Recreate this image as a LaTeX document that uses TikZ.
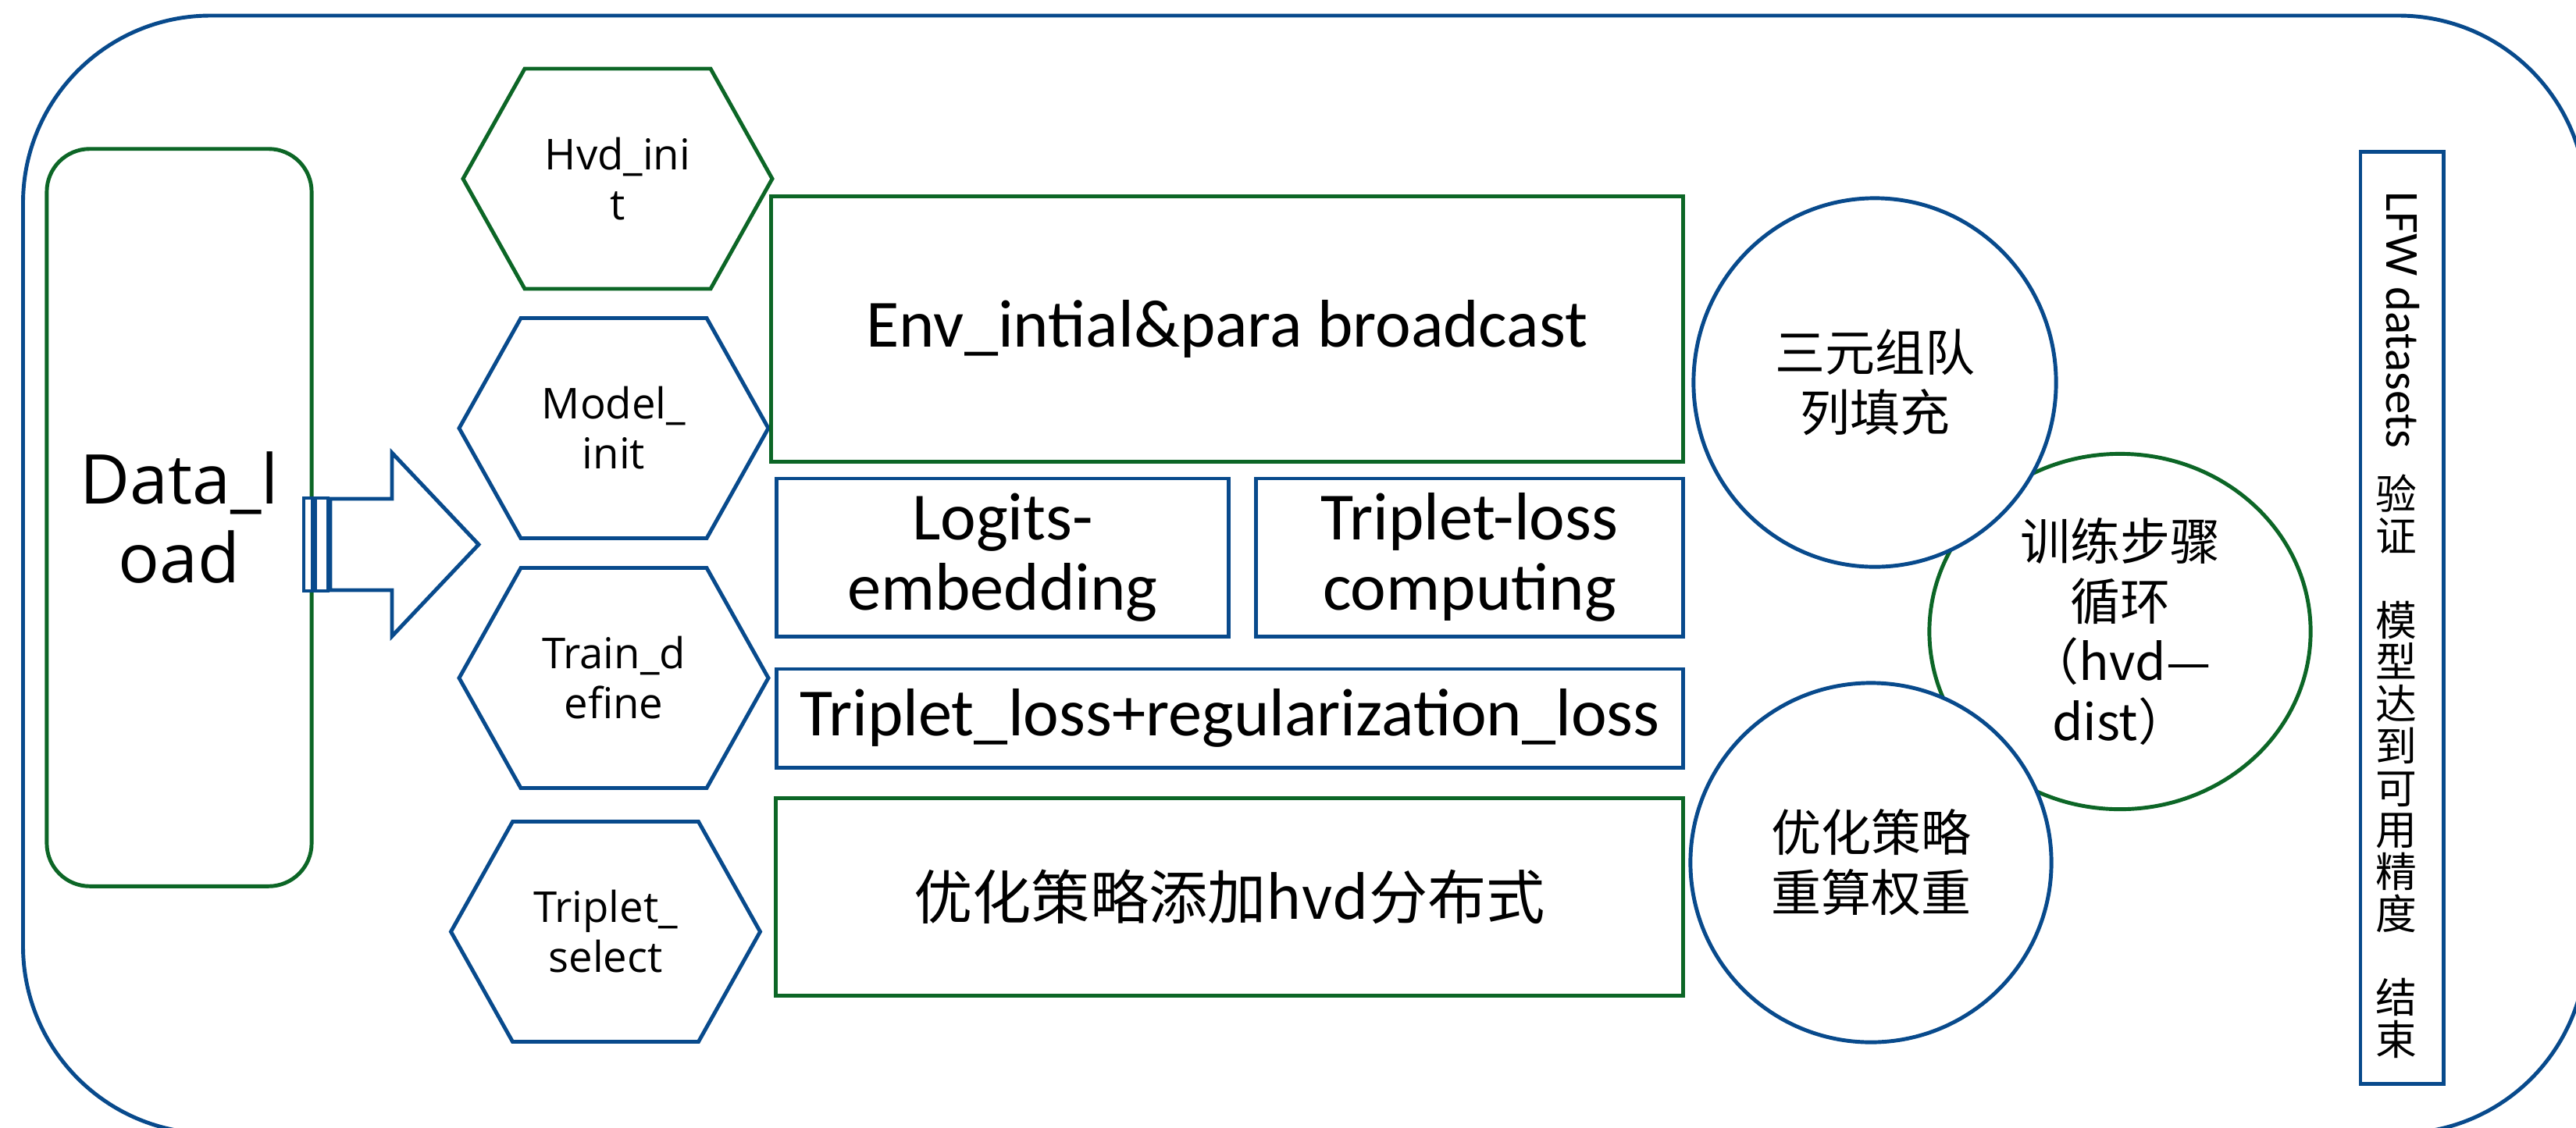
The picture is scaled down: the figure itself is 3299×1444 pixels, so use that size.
\documentclass[tikz,border=0pt]{standalone}
\usepackage{fontspec}
\setmainfont{Carlito}
\newfontfamily\yhfont{Open Sans}
\newfontfamily\cjkfont{Noto Sans CJK SC}
\usetikzlibrary{shapes.geometric}
\definecolor{frgreen}{RGB}{12,102,38}
\definecolor{frblue}{RGB}{8,74,140}
\newcommand\tightlines{\lineskiplimit=-20pt\relax\lineskip=0pt\relax}
\newcommand\hexat[4]{%
  \draw[#3] (#1-198,#2) -- (#1-119,#2-141) -- (#1+119,#2-141) -- (#1+198,#2)
    -- (#1+119,#2+141) -- (#1-119,#2+141) -- cycle;
  \node[hexlabel] (#4) at (#1,#2) {\csname hextext#4\endcsname};}
\newcommand\hextexthvd{Hvd\_ini\\t}
\newcommand\hextextmodel{Model\_\\init}
\newcommand\hextexttrain{Train\_d\\efine}
\newcommand\hextexttrip{Triplet\_\\select}
\begin{document}
\begin{tikzpicture}[x=0.01cm,y=-0.01cm,
  gline/.style={draw=frgreen,line width=1.4pt},
  bline/.style={draw=frblue,line width=1.4pt},
  hexlabel/.style={font=\yhfont\fontsize{15.5}{18.2}\selectfont,align=center,inner sep=0pt},
  boxtext/.style={font=\fontsize{24.6}{25.6}\selectfont,align=center,inner sep=0pt},
  cjktext/.style={font=\cjkfont\fontsize{18.2}{21.9}\selectfont,align=center,inner sep=0pt},
  sqbox/.style={rectangle,inner sep=0pt,fill=white}]
\useasboundingbox (0,0) rectangle (3299,1444);
\fill[white] (0,0) rectangle (3299,1444);
\begin{scope}
\clip (0,0) rectangle (3299,1444);
\draw[bline,rounded corners=2.4cm] (29.5,20) rectangle (3312,1452);
\end{scope}

% Data_load
\node[gline,sqbox,rounded corners=0.55cm,minimum width=3.39cm,minimum height=9.44cm,
  font=\yhfont\fontsize{25}{28.7}\selectfont,align=center] (data) at (229.5,663) {Data\_l\\oad};

% striped arrow
\draw[bline,fill=white] (389,638) rectangle (400,757);
\draw[bline,fill=white] (404,638) rectangle (420,757);
\draw[bline,fill=white] (423,639) -- (502,639) -- (502,580) -- (613,697.5) -- (502,815) -- (502,756) -- (423,756) -- cycle;

% hexagons
\hexat{791}{229}{gline}{hvd}
\hexat{786}{548.5}{bline}{model}
\hexat{786}{868.5}{bline}{train}
\hexat{775.5}{1193.5}{bline}{trip}

% boxes
\node[gline,sqbox,boxtext,minimum width=11.67cm,minimum height=3.39cm] (env) at (1571.5,421.5) {Env\_intial\&para broadcast};
\node[bline,sqbox,boxtext,minimum width=5.78cm,minimum height=2.02cm] (logit) at (1284,714) {Logits-\\embedding};
\node[bline,sqbox,boxtext,minimum width=5.46cm,minimum height=2.02cm] (tlc) at (1882,714) {Triplet-loss\\computing};
\node[bline,sqbox,boxtext,minimum width=11.6cm,minimum height=1.26cm] (treg) at (1575,920) {Triplet\_loss+regularization\_loss};
\node[gline,sqbox,minimum width=11.61cm,minimum height=2.52cm,
  font=\cjkfont\fontsize{21.4}{24}\selectfont] (opt) at (1574.5,1149) {优化策略添加hvd分布式};

% circles
\node[ellipse,gline,fill=white,cjktext,minimum width=4.88cm,minimum height=4.55cm] (loop) at (2715,809) {训练步骤\\循环\\（hvd—\\dist）};
\node[ellipse,bline,fill=white,cjktext,minimum width=4.64cm,minimum height=4.72cm] (queue) at (2401,490) {三元组队\\列填充};
\node[ellipse,bline,fill=white,cjktext,minimum width=4.62cm,minimum height=4.6cm] (reweight) at (2396,1105) {优化策略\\重算权重};

% LFW box
\node[bline,sqbox,minimum width=1.06cm,minimum height=11.93cm] (lfw) at (3076,791.5) {};
\node[rotate=-90,inner sep=0pt,font=\fontsize{17.3}{20}\selectfont] (lfwtxt) at (3077,410) {LFW datasets};
\node[inner sep=0pt,align=center,font={\cjkfont\fontsize{15}{15.28}\selectfont\tightlines}] (lfwcjk) at (3069,982)
  {验\\证\\[15.28pt]模\\型\\达\\到\\可\\用\\精\\度\\[15.28pt]结\\束};
\end{tikzpicture}
\end{document}
